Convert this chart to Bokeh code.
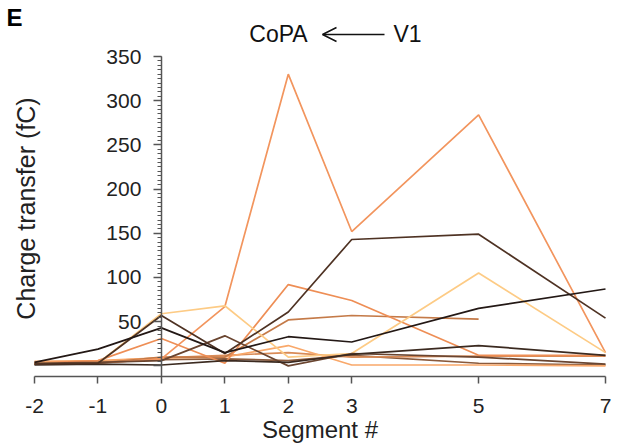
from math import pi
from bokeh.plotting import figure
from bokeh.models import Range1d, FixedTicker, Label, Arrow, OpenHead
from bokeh.embed import file_html
from bokeh.resources import INLINE

# Segment positions (x) and charge transfer (fC) per recorded cell
segments = [-2, -1, 0, 1, 2, 3, 5, 7]

cell_a = [4, 19, 43, 15, 33, 27, 65, 87]
cell_b = [2, 3, 57, 14, 61, 143, 149, 54]
cell_c = [3, 4, 6, 34, 0, 14, 10, 2]
cell_d = [1, 2, 1, 6, 4, 13, 23, 12]
cell_e = [2, 3, 10, 10, 52, 57, 53]          # recorded up to segment 5
cell_f = [3, 6, 31, 3, 92, 74, 12, 12]
cell_g = [2, 3, 8, 67, 330, 152, 284, 15]
cell_h = [3, 3, 59, 68, 10, 14, 105, 15]
cell_i = [5, 6, 9, 10, 23, 1, 1, 0]
cell_j = [2, 4, 7, 8, 6, 12, 3, 1]
cell_k = [4, 5, 9, 12, 15, 10, 11, 11]

cells = [cell_j, cell_k, cell_i, cell_e, cell_f, cell_g, cell_h, cell_c, cell_d, cell_b, cell_a]
colors = ["#8A5A3C", "#D98B57", "#F9A86A", "#C47A48", "#EE8E55", "#F2955E",
          "#FDCB85", "#6A4530", "#3B2A20", "#4E3223", "#231815"]

x_ticks = [-2, -1, 0, 1, 2, 3, 5, 7]
y_ticks = [0, 50, 100, 150, 200, 250, 300, 350]

W, H = 626, 444
# data window -2..7 spans px 34..605, y -12..350 spans px 376..56
x_per_px = 9 / 571.0
y_per_px = 362 / 320.0
x0 = -2 - 34 * x_per_px
x1 = 7 + (W - 605) * x_per_px
y1 = 350 + 56 * y_per_px
y0 = -12 - (H - 376) * y_per_px

p = figure(width=W, height=H, output_backend="svg", toolbar_location=None,
           x_range=Range1d(x0, x1), y_range=Range1d(y0, y1),
           min_border=0)
p.outline_line_color = None
p.xgrid.visible = False
p.ygrid.visible = False
p.background_fill_color = "white"
p.border_fill_color = "white"

for vals, col in zip(cells, colors):
    p.line(segments[:len(vals)], vals, line_color=col, line_width=1.7)

axis_col = "#555555"
text_col = "#222222"
font = "Liberation Sans"

xa = p.xaxis[0]
xa.fixed_location = -12
xa.bounds = (-2, 7)
xa.ticker = FixedTicker(ticks=x_ticks)
xa.major_label_overrides = {-2: "-2", -1: "-1"}
xa.axis_line_color = axis_col
xa.axis_line_width = 1.5
xa.major_tick_line_color = axis_col
xa.major_tick_line_width = 1.5
xa.major_tick_out = 7
xa.major_tick_in = 0
xa.minor_tick_line_color = None
xa.major_label_text_font = font
xa.major_label_text_font_size = "21px"
xa.major_label_text_color = text_col
xa.major_label_standoff = 15
xa.axis_label = "Segment #"
xa.axis_label_text_font = font
xa.axis_label_text_font_size = "24px"
xa.axis_label_text_font_style = "normal"
xa.axis_label_text_color = text_col
xa.axis_label_standoff = 0

ya = p.yaxis[0]
ya.fixed_location = 0
ya.bounds = (-12, 350)
ya.ticker = FixedTicker(ticks=y_ticks, minor_ticks=list(range(0, 351, 5)))
ya.major_label_overrides = {0: ""}
ya.axis_line_color = axis_col
ya.axis_line_width = 1.5
ya.major_tick_line_color = axis_col
ya.major_tick_line_width = 1.5
ya.major_tick_out = 8
ya.major_tick_in = 0
ya.minor_tick_line_color = axis_col
ya.minor_tick_line_width = 1
ya.minor_tick_out = 4
ya.minor_tick_in = 0
ya.major_label_text_font = font
ya.major_label_text_font_size = "21px"
ya.major_label_text_color = text_col
ya.major_label_standoff = 12

p.add_layout(Label(x=25, y=H - 208, x_units="screen", y_units="screen",
                   text="Charge transfer (fC)", angle=pi / 2,
                   text_align="center", text_baseline="middle",
                   text_font=font, text_font_size="25px", text_color=text_col))
p.add_layout(Label(x=6, y=H - 3, x_units="screen", y_units="screen",
                   text="E", text_align="left", text_baseline="top",
                   text_font=font, text_font_size="24px", text_font_style="bold",
                   text_color="#000000"))
p.add_layout(Label(x=278, y=H - 33, x_units="screen", y_units="screen",
                   text="CoPA", text_align="center", text_baseline="middle",
                   text_font=font, text_font_size="23px", text_color="#111111"))
p.add_layout(Label(x=407, y=H - 33, x_units="screen", y_units="screen",
                   text="V1", text_align="center", text_baseline="middle",
                   text_font=font, text_font_size="23px", text_color="#111111"))
p.add_layout(Arrow(x_start=384, y_start=H - 34, x_end=322, y_end=H - 34,
                   start_units="screen", end_units="screen",
                   line_color="#111111", line_width=1.5,
                   end=OpenHead(size=14, line_color="#111111", line_width=1.5)))

open("out.html", "w").write(file_html(p, INLINE))
